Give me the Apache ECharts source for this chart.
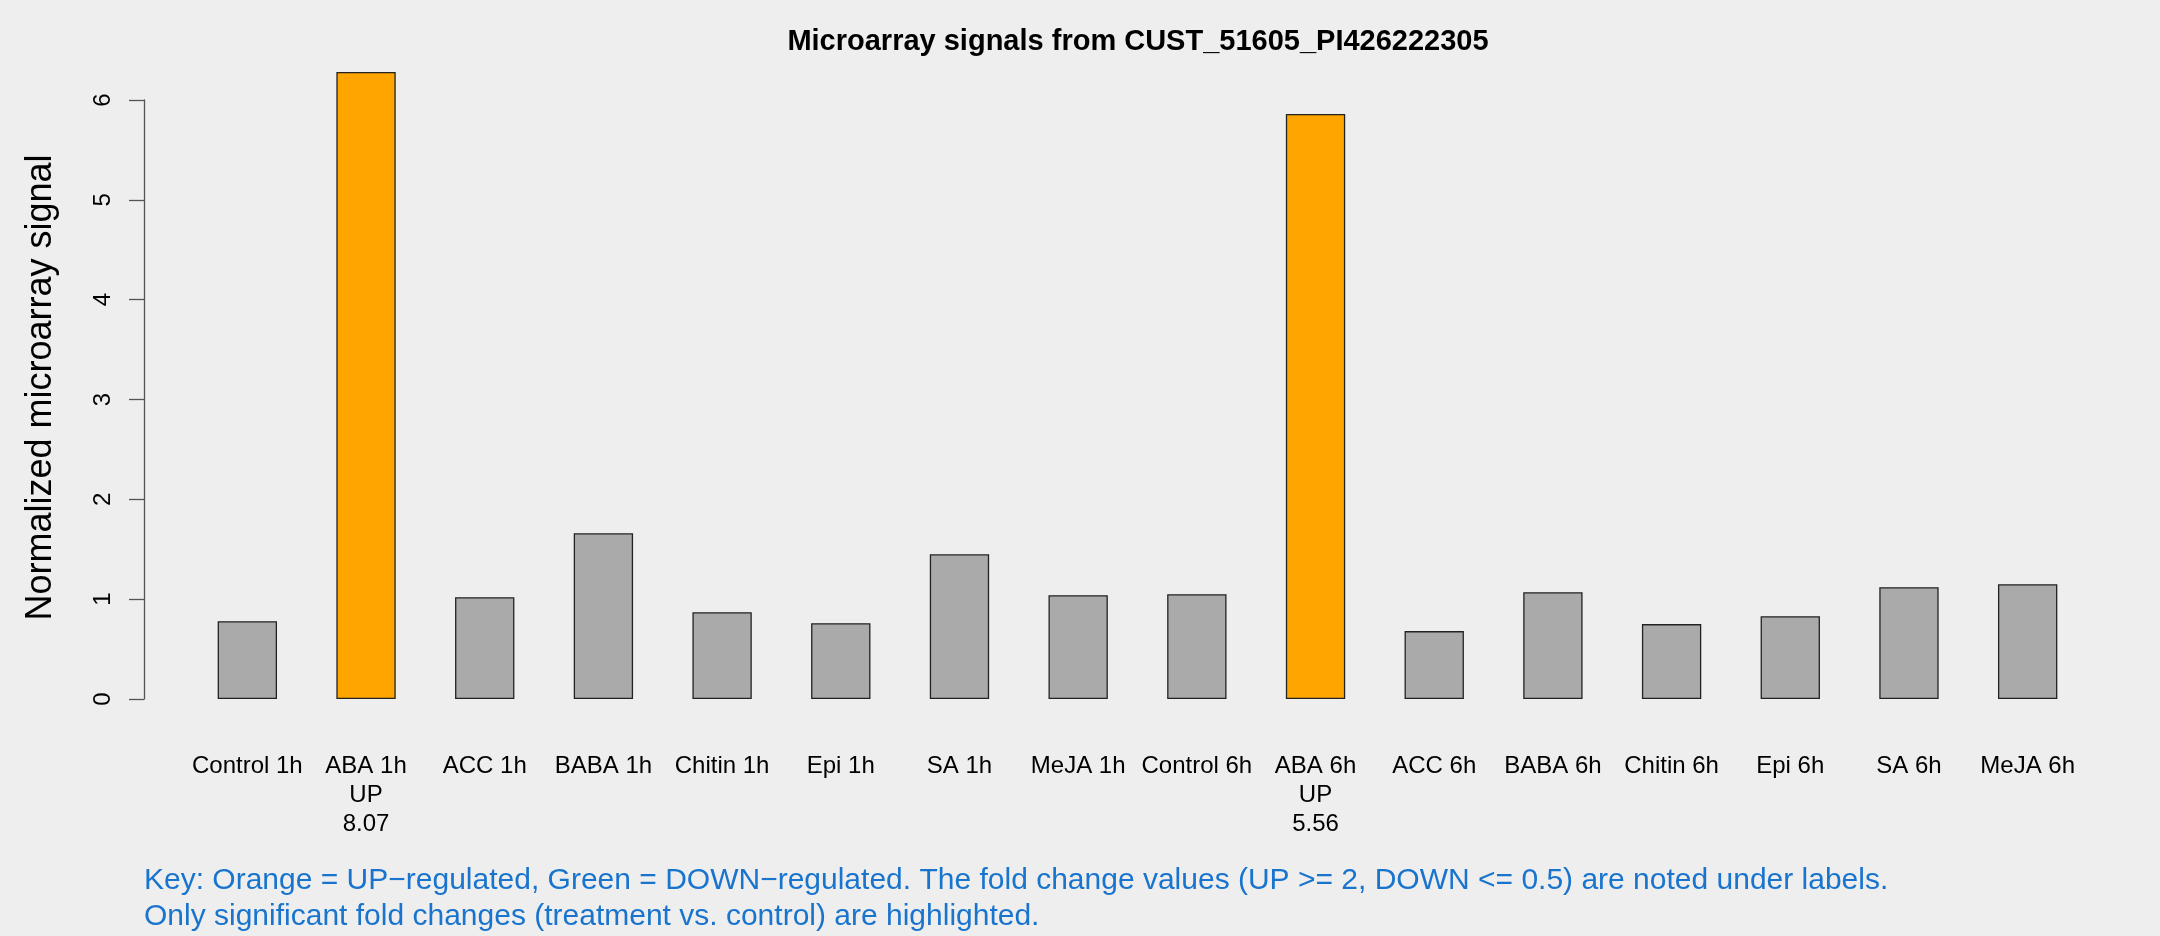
<!DOCTYPE html>
<html>
<head>
<meta charset="utf-8">
<script src="https://cdn.jsdelivr.net/npm/echarts@6/dist/echarts.min.js"></script>
<style>
html,body{margin:0;padding:0;background:#EEEEEE;}
#chart{width:2160px;height:936px;}
</style>
</head>
<body>
<div id="chart"></div>
<script>
// ---- data ----
const categories = ['Control 1h','ABA 1h','ACC 1h','BABA 1h','Chitin 1h','Epi 1h','SA 1h','MeJA 1h',
                    'Control 6h','ABA 6h','ACC 6h','BABA 6h','Chitin 6h','Epi 6h','SA 6h','MeJA 6h'];
const signals = [0.78, 6.28, 1.02, 1.66, 0.87, 0.76, 1.45, 1.04,
                 1.05, 5.86, 0.68, 1.07, 0.75, 0.83, 1.12, 1.15];
const regulation = ['', 'UP', '', '', '', '', '', '',
                    '', 'UP', '', '', '', '', '', ''];
const foldChange = ['', '8.07', '', '', '', '', '', '',
                    '', '5.56', '', '', '', '', '', ''];
const yTicks = [0, 1, 2, 3, 4, 5, 6];

const FONT = '"Liberation Sans", Arial, Helvetica, sans-serif';
const colorFor = r => r === 'UP' ? '#FFA500' : (r === 'DOWN' ? '#00A000' : '#AAAAAA');

const chart = echarts.init(document.getElementById('chart'));
chart.setOption({
  backgroundColor: '#EEEEEE',
  animation: false,
  title: [
    {
      text: 'Microarray signals from CUST_51605_PI426222305',
      left: 1133, top: 22, textAlign: 'center',
      textStyle: {fontFamily: FONT, fontSize: 29, fontWeight: 'bold', color: '#000'}
    },
    {
      text: 'Key: Orange = UP\u2212regulated, Green = DOWN\u2212regulated. The fold change values (UP >= 2, DOWN <= 0.5) are noted under labels.\nOnly significant fold changes (treatment vs. control) are highlighted.',
      left: 144, top: 863,
      padding: 0,
      textStyle: {fontFamily: FONT, fontSize: 30, fontWeight: 'normal', color: '#1874CD', lineHeight: 36}
    }
  ],
  grid: {left: 188, right: 73, top: 100, bottom: 237, containLabel: false},
  xAxis: {
    type: 'category',
    data: categories,
    axisLine: {show: false},
    axisTick: {show: false},
    axisLabel: {
      interval: 0,
      margin: 53,
      fontFamily: FONT, fontSize: 24, lineHeight: 29, color: '#000',
      formatter: (v, i) => {
        let s = v;
        if (regulation[i]) s += '\n' + regulation[i];
        if (foldChange[i]) s += '\n' + foldChange[i];
        return s;
      }
    }
  },
  yAxis: {
    type: 'value',
    min: yTicks[0], max: yTicks[yTicks.length - 1], interval: 1,
    offset: 44,
    name: 'Normalized microarray signal',
    nameLocation: 'middle',
    nameGap: 85,
    nameRotate: 90,
    nameTextStyle: {fontFamily: FONT, fontSize: 36, color: '#000', padding: [0, 0, 0, 24]},
    axisLine: {show: true, lineStyle: {color: '#555', width: 1.3}},
    axisTick: {show: true, length: 15, lineStyle: {color: '#555', width: 1.3}},
    axisLabel: {rotate: 90, margin: 29, fontFamily: FONT, fontSize: 24, color: '#000'},
    splitLine: {show: false}
  },
  series: [{
    type: 'bar',
    clip: false,
    barWidth: '50%',
    data: signals.map((v, i) => ({
      value: v,
      itemStyle: {color: colorFor(regulation[i])}
    })),
    itemStyle: {borderColor: '#222', borderWidth: 1.3}
  }]
});
</script>
</body>
</html>
